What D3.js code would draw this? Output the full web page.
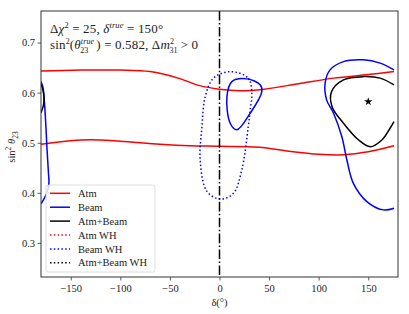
<!DOCTYPE html>
<html>
<head>
<meta charset="utf-8">
<script src="https://cdn.jsdelivr.net/npm/d3@7"></script>
<style>
  body { margin: 0; background: #fff; }
  svg text { font-family: "Liberation Serif", "DejaVu Serif", serif; fill: #222; }
</style>
</head>
<body>
<div id="chart"></div>
<script>
// contour points: [delta (deg), sin^2 theta23]
const atmUpper = [[-180,0.643],[-140,0.645],[-100,0.645],[-70,0.642],[-40,0.628],[-20,0.614],[0,0.607],[20,0.604],[45,0.607],[80,0.618],[115,0.629],[150,0.636],[176,0.642]];
const atmLower = [[-180,0.497],[-150,0.504],[-130,0.506],[-100,0.503],[-60,0.497],[-30,0.494],[0,0.493],[40,0.491],[70,0.483],[100,0.477],[125,0.476],[150,0.482],[176,0.494]];
const beamLeft = [[-180,0.622],[-178,0.61],[-176.5,0.58],[-175,0.53],[-174,0.49],[-172.5,0.44],[-172,0.42],[-174,0.4],[-177,0.388],[-180,0.378]];
const beamRight = [[176,0.6455],[162,0.659],[145,0.6655],[125,0.662],[111.5,0.6455],[106.5,0.619],[108,0.5856],[115,0.559],[123.4,0.512],[128.4,0.466],[135,0.419],[148.6,0.3826],[165,0.366],[176,0.3694]];
const beamMid = [[27.6,0.6275],[41,0.6156],[42.7,0.602],[31,0.559],[17.5,0.526],[10.8,0.539],[7.5,0.592],[12.5,0.622]];
const beamWH = [[10.8,0.642],[29,0.629],[32.6,0.599],[31,0.566],[29,0.532],[22.5,0.446],[14,0.399],[0.7,0.3875],[-12.7,0.403],[-19.5,0.466],[-17.7,0.532],[-14.4,0.592],[-6,0.629]];
const combLeft = [[-180,0.617],[-178,0.605],[-177,0.59],[-177.5,0.575],[-180,0.56]];
const combRight = [[176,0.6155],[162,0.629],[145,0.632],[125,0.6255],[113,0.602],[113.5,0.572],[125,0.539],[140,0.506],[152,0.492],[164,0.506],[172,0.529],[176,0.542]];
const bestFit = [150, 0.582];

const xTicks = [-150, -100, -50, 0, 50, 100, 150];
const yTicks = [0.3, 0.4, 0.5, 0.6, 0.7];
const legendItems = [
  { label: "Atm", color: "#ff0000", dash: null },
  { label: "Beam", color: "#0000ff", dash: null },
  { label: "Atm+Beam", color: "#000000", dash: null },
  { label: "Atm WH", color: "#ff0000", dash: "1.5,2.3" },
  { label: "Beam WH", color: "#0000ff", dash: "1.5,2.3" },
  { label: "Atm+Beam WH", color: "#000000", dash: "1.5,2.3" },
];

const width = 409, height = 314;
const mLeft = 41, mRight = 398, mTop = 11, mBottom = 277;

const x = d3.scaleLinear().domain([-180, 180]).range([mLeft, mRight]);
const y = d3.scaleLinear().domain([0.232, 0.763]).range([mBottom, mTop]);

const svg = d3.select("#chart").append("svg")
  .attr("width", width).attr("height", height);

svg.append("clipPath").attr("id", "clip")
  .append("rect").attr("x", mLeft).attr("y", mTop)
  .attr("width", mRight - mLeft).attr("height", mBottom - mTop);

const plot = svg.append("g").attr("clip-path", "url(#clip)");

const openLine = d3.line().x(d => x(d[0])).y(d => y(d[1])).curve(d3.curveCatmullRom.alpha(0.5));
const closedLine = d3.line().x(d => x(d[0])).y(d => y(d[1])).curve(d3.curveCatmullRomClosed.alpha(0.5));

function draw(data, gen, color, dash) {
  plot.append("path")
    .attr("d", gen(data))
    .attr("fill", "none")
    .attr("stroke", color)
    .attr("stroke-width", 1.5)
    .attr("stroke-dasharray", dash)
    .attr("stroke-linejoin", "round");
}

draw(atmUpper, openLine, "#ff0000");
draw(atmLower, openLine, "#ff0000");
draw(beamLeft, openLine, "#0000ff");
draw(beamRight, openLine, "#0000ff");
draw(beamMid, closedLine, "#0000ff");
draw(beamWH, closedLine, "#0000ff", "1.5,2.3");
draw(combLeft, openLine, "#000000");
draw(combRight, openLine, "#000000");

// delta = 0 reference line
plot.append("line")
  .attr("x1", x(0)).attr("x2", x(0))
  .attr("y1", mTop).attr("y2", mBottom)
  .attr("stroke", "#000").attr("stroke-width", 1.5)
  .attr("stroke-dasharray", "9.6,2.4,1.5,2.4");

// best fit star
plot.append("path")
  .attr("d", d3.symbol().type(d3.symbolStar).size(22)())
  .attr("transform", `translate(${x(bestFit[0])},${y(bestFit[1])})`)
  .attr("fill", "#000");

// axes
const xAxis = svg.append("g")
  .attr("transform", `translate(0,${mBottom})`)
  .call(d3.axisBottom(x).tickValues(xTicks).tickSizeOuter(0).tickSize(3.5)
    .tickFormat(d => d < 0 ? "\u2212" + Math.abs(d) : d));
const yAxis = svg.append("g")
  .attr("transform", `translate(${mLeft},0)`)
  .call(d3.axisLeft(y).tickValues(yTicks).tickSizeOuter(0).tickSize(3.5).tickFormat(d3.format(".1f")));

[xAxis, yAxis].forEach(a => {
  a.select(".domain").remove();
  a.selectAll(".tick line").attr("stroke", "#333").attr("stroke-width", 0.8);
  a.selectAll("text").attr("font-size", 10.5).attr("fill", "#222")
    .style("font-family", "'Liberation Serif', serif");
});
xAxis.selectAll("text").attr("dy", "0.95em").attr("y", 5);
yAxis.selectAll("text").attr("x", -6);

svg.append("rect")
  .attr("x", mLeft).attr("y", mTop)
  .attr("width", mRight - mLeft).attr("height", mBottom - mTop)
  .attr("fill", "none").attr("stroke", "#333").attr("stroke-width", 1);

// axis labels
svg.append("text")
  .attr("x", x(0)).attr("y", 306)
  .attr("text-anchor", "middle").attr("font-size", 10.5)
  .text("\u03b4(\u00b0)");

const yl = svg.append("text")
  .attr("transform", `translate(15,${(mTop + mBottom) / 2 + 3}) rotate(-90)`)
  .attr("text-anchor", "middle").attr("font-size", 10.5);
yl.append("tspan").text("sin");
yl.append("tspan").attr("font-size", 7.5).attr("dy", -4).text("2");
yl.append("tspan").attr("dy", 4).attr("font-style", "italic").text(" \u03b8");
yl.append("tspan").attr("font-size", 7.5).attr("dy", 2.5).text("23");

// annotation
const t1 = svg.append("text").attr("x", 50).attr("y", 32.5).attr("font-size", 13)
  .attr("letter-spacing", 0.15);
t1.append("tspan").text("\u0394");
t1.append("tspan").attr("font-style", "italic").text("\u03c7");
t1.append("tspan").attr("font-size", 8.5).attr("dy", -5).text("2");
t1.append("tspan").attr("dy", 5).text(" = 25,  ");
t1.append("tspan").attr("font-style", "italic").text("\u03b4");
t1.append("tspan").attr("font-size", 8.5).attr("dy", -5).attr("font-style", "italic").text("true");
t1.append("tspan").attr("dy", 5).text(" = 150\u00b0");

// second line; subscripts are separate texts so they stack under superscripts
const t2y = 48.5;
const t2 = svg.append("text").attr("x", 50).attr("y", t2y).attr("font-size", 13)
  .attr("letter-spacing", 0.15);
t2.append("tspan").text("sin");
t2.append("tspan").attr("font-size", 8).attr("dy", -5).text("2");
t2.append("tspan").attr("dy", 5).text("(");
t2.append("tspan").attr("font-style", "italic").text("\u03b8");
t2.append("tspan").attr("font-size", 8).attr("dy", -5).attr("font-style", "italic").text("true");
t2.append("tspan").attr("dx", 2).attr("dy", 5).text(") = 0.582,  \u0394");
t2.append("tspan").attr("font-style", "italic").text("m");
t2.append("tspan").attr("font-size", 8).attr("dy", -5).text("2");
t2.append("tspan").attr("dx", 3).attr("dy", 5).text(" > 0");

const subs = [{ after: 4, text: "23" }, { after: 7, text: "31" }];
const spans = t2.selectAll("tspan").nodes();
subs.forEach(s => {
  const bx = spans[s.after].getStartPositionOfChar(0).x;
  svg.append("text")
    .attr("x", bx - 0.5)
    .attr("y", t2y + 4)
    .attr("font-size", 8)
    .text(s.text);
});

// legend
const lg = svg.append("g").attr("transform", "translate(46,185)");
lg.append("rect")
  .attr("width", 109).attr("height", 87).attr("rx", 2.5)
  .attr("fill", "#fff").attr("fill-opacity", 0.85)
  .attr("stroke", "#d6d6d6").attr("stroke-width", 0.8);
const rows = lg.selectAll(".row").data(legendItems).join("g")
  .attr("class", "row")
  .attr("transform", (_, i) => `translate(0,${8.3 + i * 13.9})`);
rows.append("line")
  .attr("x1", 4).attr("x2", 24)
  .attr("stroke", d => d.color).attr("stroke-width", 1.5)
  .attr("stroke-dasharray", d => d.dash);
rows.append("text")
  .attr("x", 32).attr("dy", "0.35em").attr("font-size", 10.5)
  .text(d => d.label);
</script>
</body>
</html>
